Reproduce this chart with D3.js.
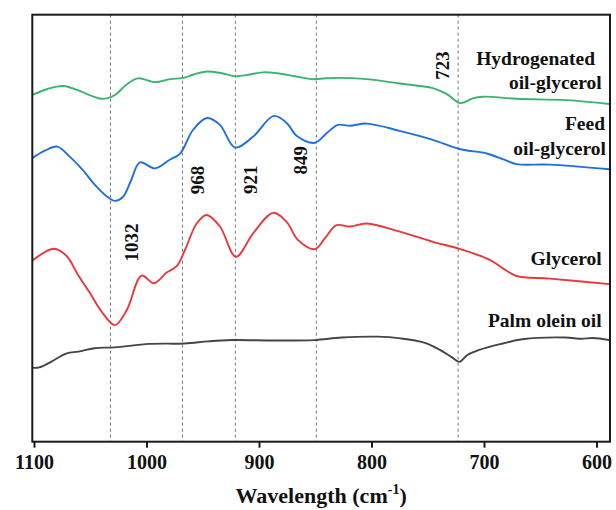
<!DOCTYPE html>
<html>
<head>
<meta charset="utf-8">
<script src="https://cdn.jsdelivr.net/npm/d3@7"></script>
<style>
  html, body { margin: 0; padding: 0; background: #fff; }
  svg { display: block; }
  text { font-family: "Liberation Serif", "Times New Roman", serif; font-weight: bold; fill: #111; }
</style>
</head>
<body>
<svg id="chart" width="616" height="510"></svg>
<script>
// Wavenumbers (cm-1) and relative transmittance (a.u.) for each spectrum
const hydroWn = [1101.5, 1088, 1074, 1058, 1050, 1039, 1028, 1018, 1007.6, 992.5, 979, 967.6, 958, 946.3, 933, 920.5, 908, 896.5, 884, 868, 852, 841, 830.8, 804, 775, 745.5, 733, 721, 710, 701, 671, 626.5, 588.3];
const hydroT  = [81.2, 82.6, 83.3, 82.0, 81.1, 80.3, 81.2, 83.6, 85.1, 84.2, 84.9, 85.2, 86.0, 86.7, 86.3, 85.6, 86.0, 86.5, 86.3, 85.6, 84.9, 85.1, 85.2, 84.9, 83.9, 82.8, 81.4, 79.3, 80.4, 80.8, 80.3, 80.0, 79.1];

const feedWn = [1101.5, 1090, 1079.3, 1068, 1056.5, 1046, 1036, 1028, 1021, 1014, 1005.8, 992.5, 979, 970.3, 958.7, 946.3, 934.7, 921.4, 905.4, 886.8, 875.2, 866.3, 850.3, 839.7, 829.9, 819.2, 804, 775, 745.5, 720.9, 697.5, 681.5, 671, 641.6, 588.3];
const feedT  = [66.4, 68.2, 69.1, 66.7, 63.6, 60.2, 57.6, 56.4, 57.3, 61.0, 65.4, 64.0, 66.1, 67.4, 73.0, 75.8, 74.2, 68.9, 71.4, 76.3, 74.6, 71.6, 70.0, 72.3, 74.2, 74.0, 74.5, 72.8, 70.7, 68.5, 67.5, 66.0, 65.0, 64.9, 63.8];

const glyWn = [1101.5, 1082.2, 1071, 1060.7, 1050.2, 1040, 1028, 1017.6, 1004.3, 993.4, 982.1, 973.2, 965.8, 955.4, 946.6, 934.7, 920.5, 905.2, 887.4, 875.5, 865.2, 850.3, 841.5, 831.1, 819.2, 804.4, 774.8, 745.3, 720.9, 694.9, 683.1, 671.1, 641.6, 588.3];
const glyT  = [42.4, 45.2, 43.5, 39.0, 34.8, 30.5, 27.3, 30.8, 38.9, 37.1, 39.6, 41.1, 44.9, 51.1, 53.1, 50.4, 43.3, 48.8, 53.6, 51.5, 47.2, 45.1, 47.6, 50.7, 50.4, 51.1, 49.2, 46.8, 45.1, 42.6, 40.6, 38.8, 38.2, 36.9];

const palmWn = [1101.5, 1095.3, 1084.9, 1070.9, 1060.4, 1046.4, 1028.3, 997.6, 966.1, 945.1, 924.3, 885.9, 851, 826.5, 795.1, 774.1, 753.1, 739.2, 728.7, 721.8, 714.8, 704.3, 683.3, 665.9, 627.5, 613.6, 603.1, 588.3];
const palmT  = [17.3, 17.4, 18.7, 20.7, 21.1, 21.9, 22.1, 22.9, 23.0, 23.5, 23.8, 23.7, 23.8, 24.4, 24.6, 24.2, 23.2, 21.5, 19.8, 18.7, 20.3, 21.5, 23.0, 24.0, 24.4, 24.1, 24.3, 23.8];

// Marked absorption bands
const bands = [1032, 968, 921, 849, 723];
const xTicks = [1100, 1000, 900, 800, 700, 600];

const seriesNames = ["Hydrogenated oil-glycerol", "Feed oil-glycerol", "Glycerol", "Palm olein oil"];
const seriesColors = ["#3cb371", "#1f6fe0", "#e8383d", "#454545"];

const svg = d3.select("#chart");
const plot = { left: 32.3, right: 610, top: 14.7, bottom: 441.7 };

const x = d3.scaleLinear().domain([1101.5, 588]).range([plot.left, plot.right]);
const y = d3.scaleLinear().domain([0, 100]).range([plot.bottom, plot.top]);

// band guide lines
svg.append("g").selectAll("line").data(bands).join("line")
  .attr("x1", d => x(d)).attr("x2", d => x(d))
  .attr("y1", plot.top).attr("y2", plot.bottom)
  .attr("stroke", "#777").attr("stroke-width", 1)
  .attr("stroke-dasharray", "3,3");

// spectra
const spectra = [
  { wn: hydroWn, t: hydroT },
  { wn: feedWn, t: feedT },
  { wn: glyWn, t: glyT },
  { wn: palmWn, t: palmT }
];
const line = d3.line().x(d => x(d[0])).y(d => y(d[1])).curve(d3.curveCatmullRom.alpha(0.5));
svg.append("g").selectAll("path").data(spectra).join("path")
  .attr("d", s => line(s.wn.map((w, i) => [w, s.t[i]])))
  .attr("fill", "none")
  .attr("stroke", (s, i) => seriesColors[i])
  .attr("stroke-width", 1.9)
  .attr("stroke-linejoin", "round");

// frame
svg.append("rect")
  .attr("x", plot.left).attr("y", plot.top)
  .attr("width", plot.right - plot.left).attr("height", plot.bottom - plot.top)
  .attr("fill", "none").attr("stroke", "#1a1a1a").attr("stroke-width", 2);

// bottom axis
const xAxis = d3.axisBottom(x).tickValues(xTicks).tickSize(6).tickPadding(7).tickFormat(d3.format("d"));
const gx = svg.append("g").attr("transform", `translate(0,${plot.bottom})`).call(xAxis);
gx.select(".domain").remove();
gx.selectAll(".tick line").attr("stroke", "#1a1a1a").attr("stroke-width", 2);
gx.selectAll(".tick text")
  .attr("font-weight", "bold").attr("font-size", 20).attr("fill", "#111");

// axis title
const title = svg.append("text")
  .attr("x", (plot.left + plot.right) / 2).attr("y", 503)
  .attr("text-anchor", "middle").attr("font-size", 22);
title.append("tspan").text("Wavelength (cm");
title.append("tspan").attr("font-size", 14).attr("dy", -9).text("-1");
title.append("tspan").attr("dy", 9).text(")");

// band labels, rotated
const bandLabelPos = [
  { dx: 27.5, cy: 242.5 },
  { dx: 21.4, cy: 180 },
  { dx: 21.2, cy: 179.7 },
  { dx: -9.2, cy: 160.3 },
  { dx: -9.3, cy: 65.5 }
];
svg.append("g").selectAll("text").data(bands).join("text")
  .attr("transform", (d, i) => `translate(${x(d) + bandLabelPos[i].dx},${bandLabelPos[i].cy}) rotate(-90)`)
  .attr("text-anchor", "middle")
  .attr("font-size", 19)
  .text(d => d);

// series labels
const seriesLabels = [
  { text: "Hydrogenated", x: 595, y: 65 },
  { text: "oil-glycerol", x: 601.7, y: 89.3 },
  { text: "Feed", x: 605, y: 130 },
  { text: "oil-glycerol", x: 606, y: 155 },
  { text: "Glycerol", x: 601.7, y: 265 },
  { text: "Palm olein oil", x: 601.7, y: 326.7 }
];
svg.append("g").selectAll("text").data(seriesLabels).join("text")
  .attr("x", d => d.x).attr("y", d => d.y)
  .attr("text-anchor", "end")
  .attr("font-size", 19.5)
  .text(d => d.text);
</script>
</body>
</html>
